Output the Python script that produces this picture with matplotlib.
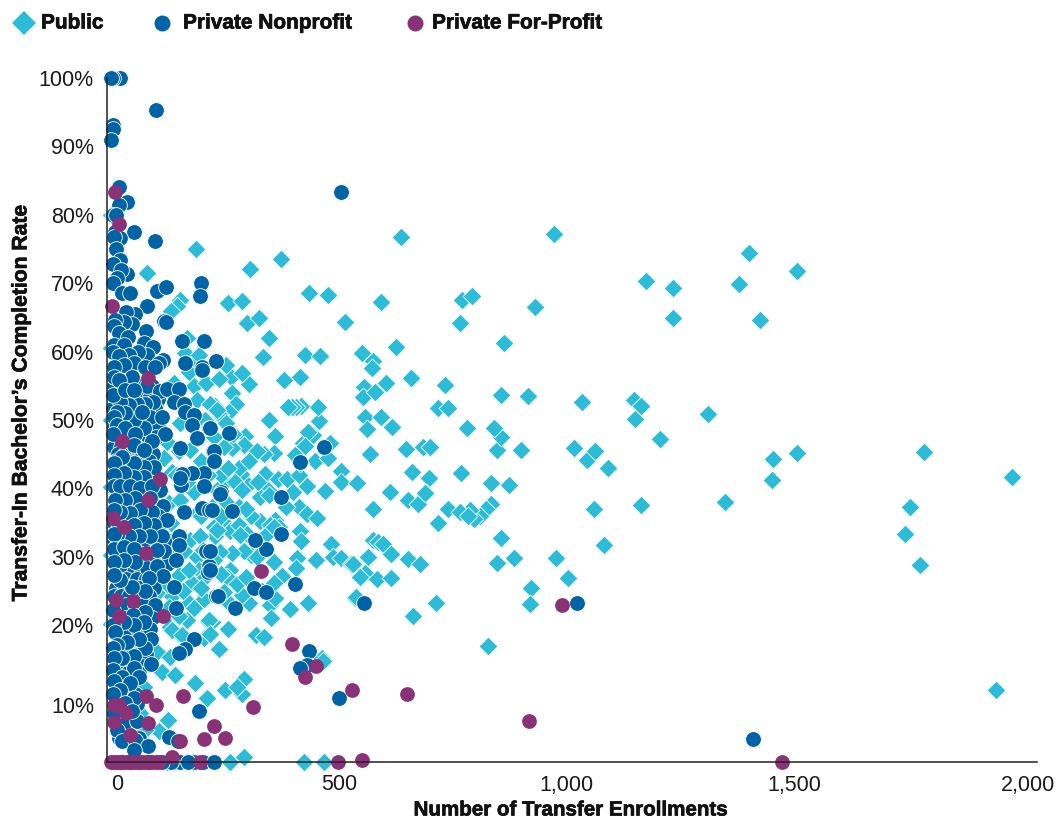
import matplotlib
matplotlib.use("Agg")
import matplotlib.pyplot as plt
from matplotlib.lines import Line2D
from matplotlib.transforms import ScaledTranslation
import matplotlib.patheffects as pe

plt.rcParams['font.family'] = ['Liberation Sans', 'DejaVu Sans']

categories = ["Public", "Private Nonprofit", "Private For-Profit"]
x_ticks = [0, 500, 1000, 1500, 2000]
x_tick_labels = ["0", "500", "1,000", "1,500", "2,000"]
y_ticks = [10, 20, 30, 40, 50, 60, 70, 80, 90, 100]
y_tick_labels = ["10%", "20%", "30%", "40%", "50%", "60%", "70%", "80%", "90%", "100%"]

# (transfer enrollments, completion rate %)
public = [
(1980,41.7),(1945,10.5),(1786,45.3),(1778,28.8),(1756,37.3),(1745,33.3),(1507,45.2),(1454,44.3),(1452,41.2),(1349,38),
(1311,50.9),(1507,71.8),(1401,74.4),(1379,69.9),(1426,64.6),(1234,69.3),(1175,70.3),(1234,64.9),(972,77.2),(636,76.8),
(185,75),(304,72.1),(372,73.5),(77,71.5),(931,66.5),(770,67.5),(792,68.1),(766,64.2),(862,61.3),(592,67.3),(513,64.3),
(475,68.3),(433,68.6),(255,67.1),(286,67.4),(150,67.5),(143,66.7),(297,64.2),(323,64.9),
(856,53.7),(915,53.5),(1034,52.6),(1148,52.9),(1164,52),(1150,50.1),(1205,47.2),(1016,45.9),(1045,44.2),(1062,45.5),
(1090,43),(1060,37),(1164,37.6),(1082,31.7),(1003,26.9),(976,29.8),(921,25.4),(919,23.1),(884,29.8),(847,29.1),(856,32.7),
(873,40.5),(834,40.8),(900,45.6),(847,45.6),(856,47.5),(840,48.8),(827,17),(834,37.7),(823,37),(810,36),(796,35.5),(788,36.8),
(346,62),(331,59.2),(425,59.5),(458,59.3),(549,59.8),(573,58.6),(571,57.6),(624,60.6),(659,56.1),(657,56.2),(732,55.1),(554,54.8),
(553,53.3),(579,54.1),(603,55.4),(718,51.7),(738,51.8),(556,50.5),(592,50.4),(561,48.7),(616,49),(780,48.8),(647,45.7),(685,46),
(699,46),(567,45),(660,42.4),(767,42.2),(697,41.5),(691,39.4),(611,39.5),(650,38.3),(503,42.5),(503,41),(539,40.8),(468,39.6),
(429,40.4),(397,39.5),(337,42.1),(298,40.5),(364,41.4),(384,41.4),(411,42),(447,44),(474,44.5),(414,43.7),(403,44.9),(419,46.6),
(480,46.6),(441,47.8),(430,48.3),(425,46.2),(358,47.7),(346,50),(454,49.9),(452,51.9),(416,52),(404,51.9),(395,51.9),(386,51.9),
(414,56.3),(377,55.9),(301,55.2),(261,56.3),(285,56.9),(263,54),(273,52.3),(258,51.2),(238,50.7),(219,52),(226,52),(293,47.7),
(289,46.4),(263,45.9),(245,46.1),(355,45.2),(333,45),(318,45.4),(284,42.1),(278,43),(249,41),(331,39.3),(342,39.8),
(672,37.7),(688,39.3),(575,37),(738,37),(765,36.5),(784,35.9),(718,35),(411,37.3),(428,36.3),(450,35.7),(383,37.3),(326,35.2),
(358,35.4),(347,34.6),(366,34.4),(414,33.7),(415,32.3),(481,31.8),(486,30),(504,29.8),(525,29),(531,29),(573,32.5),(586,32.1),
(597,31.8),(614,30.4),(562,29.9),(650,29.7),(678,29),(556,27.7),(545,27.1),(582,26.7),(614,26.9),(535,24),(661,21.4),(713,23.2),
(431,23.3),(392,22.3),(348,23),(358,24),(302,23.2),(285,24.4),(256,23.2),(219,20.5),(317,18.5),(333,18.3),(461,15.2),(406,29.8),
(405,28.4),(449,29.5),(373,27.2),(355,29.3),(355,26.1),(305,30.3),(318,30),(289,30.8),(263,30.6),(238,30.7),(260,28.1),(252,27.1),
(245,34.9),(260,33.7),(278,34.7),(296,33.4),(281,33.2),(227,33),(340,33.4),(355,34.4),(230,37.3),(252,37.8),(278,37.3),(326,38.8),(344,39),
(210,20.6),(164,20.8),(146,21.3),(127,19.8),(153,18.3),(138,12.8),(109,13.2),(182,11.5),(208,9.3),(248,10.5),(285,9.9),(291,12.1),
(274,11),(122,6.2),(102,4.5),(73,4.7),(463,14.7),(260,0),(290,0.7),(421,0),(465,0),(127,15.4),(98,16.1),(201,18.1),(536,24.1),
(179,55),(207,55.4),(135,55.4),(186,52.9),(215,52.4),(230,51.5),(150,49.5),(120,46.8),(146,45.4),(113,44.4),(171,45.6),(131,42.4),
(124,37.8),(150,38.3),(179,39.5),(186,36.4),(171,32.5),(193,33),(223,34.4),(186,30),(157,30.8),(109,29),(219,37.3),(230,33.9),(230,39.8),
(98,24.7),(131,24.2),(175,26.1),(146,27.3),(201,23.9),(168,23.2),(212,20.7),(124,22.7),(131,19.3),(153,18.6),(127,15.3),(139,12.7),
(183,11.5),(69,11),(62,7.1),(40,5.7),(180,58.6),(160,59.8),(190,59.5),(120,0),(135,0),(150,0),(165,0),(-3,50),(-3,80),(-3,60.5),(-3,40.2),(-3,30.3),(-3,20.2),
(240,42),(255,43),(270,41),(285,39.7),(300,44),(265,48),(250,49.5),(225,47.5),(205,50),(195,44),(210,42),(195,36),(240,36),(305,36),(320,41),(295,37),
(200,31),(225,29.5),(240,27.5),(275,26),(295,27),(330,25),(350,21),(245,24.8),(190,28),(205,27),(170,28),(155,25),(110,27),(120,31),(130,35),(140,42),
(165,41),(195,25.5),(215,18.7),(235,16.5),(255,19.5),(180,22.5),(120,26),(250,58),(235,56),(170,57),(165,62),(130,66),
]

# crowded band next to the axis: rates and the enrollments read along each of them
dense_rates = [55, 53, 51.8, 50, 49, 47.5, 46, 45, 44, 42.8, 41, 39.5, 37.5, 36, 35, 34, 32.5, 32, 30.5, 29, 27.8, 26.7, 25.5, 24.3, 23, 21, 19, 17, 15.8, 14, 13, 10, 8.5, 6, 3.5, 0]
dense_enrollments = [
[5,22,38,58,88],[8,25,43,62,80,100],[2,20,38,57,75,95],[15,33,57,76,95],[5,20,40,60,78,100],[12,30,42,62,75,97],[5,20,35,55,80],
[12,28,42,58,75,90],[8,32,55,80],[14,35,58,78,88],[8,14,32,55,78,95],[10,30,48,70,95],[14,35,55,75,98,112],[8,28,50,72,100],[3,20,38,58,80],
[12,30,52,72,100],[3,20,42,65,90,120],[14,33,55,75],[8,36,60,85,105],[14,38,62,88,120],[8,28,48,66,92],[30,55,75,95],[8,28,58,92],[3,20,38,58,80],
[12,30,50,68,95],[8,28,58,88],[20,38,60,78],[20,42,65],[32,60,75],[12,30,65],[35,58],[8,32,50],[12,20,55],[10,20,30,55],[15,35,60],[20,40,60,80,140,180,200],
]

nonprofit = [
(18,100),(2,100),(-2,100),(97,95.3),(2,93.2),(2,92.6),(-2,91),(14,84),(504,83.3),(32,81.8),(14,81.4),(1,80),(9,80),(47,77.5),
(95,76.2),(7,77.5),(18,76.6),(3,76.8),(8,75),(18,73.4),(1,72.8),(32,71.3),(19,72),(10,70.7),(2,70),(21,68.5),(40,68.6),(98,68.8),
(118,69.5),(196,70.1),(193,68.1),(76,66.7),(113,64.5),(119,64.3),(51,65.5),(31,65.8),(43,64),(25,64.4),(74,63),(7,64.6),(3,63.7),
(14,62.7),(34,62.2),(153,61.5),(201,61.5),(3,61),(25,61),(69,61.2),(89,60.6),(76,59.5),(57,60),(1,60),(36,59.5),(14,59.3),(111,58.7),
(104,58.3),(160,58.3),(197,57.8),(229,58.6),(47,58.3),(25,58),(3,57.8),(72,57.8),(94,57.8),
(197,57.3),(43,56.3),(3,56.3),(14,55.8),(76,54.9),(106,54.3),(120,54.5),(147,54.5),(135,52.7),(159,52.4),(160,51.2),(181,50.8),
(175,49.3),(212,48.8),(186,47.4),(89,52.6),(72,52.4),(54,52.4),(36,52.2),(18,52.7),(2,53.6),(29,54.4),(47,54.4),(84,50.5),(109,50.4),
(69,48.8),(116,47.9),(87,46.9),(47,50),(65,51.2),(29,51),(10,51.2),(3,50.5),(10,49.3),(29,48.8),(51,48),(2,48),(47,46.3),(69,45.6),
(150,45.9),(221,45.4),(223,43.9),(202,42.3),(175,42.2),(91,43.1),(153,42.1),(152,40.5),(150,41.5),(203,40.3),(106,39.8),(69,43.2),
(47,43.7),(21,44.6),(3,43.7),(69,41.7),(47,41.7),(25,42.2),(3,42),(3,40.3),(18,40.3),(40,40.3),(62,40),(87,40.3),(84,38.6),(51,38.6),
(29,38.3),(7,38.3),(87,36.6),(62,36.8),(40,36.4),(18,36.6),(3,36.8),(159,36.5),(197,37.2),(213,36.8),(120,35.4),(91,34.7),(69,34.9),
(47,34.7),(109,33),(148,33.1),(148,31.7),(113,30.9),(84,33),(58,33),(36,33),(10,33.2),(3,33.4),(3,31.2),(25,31.5),(47,31.2),(98,31),
(141,29.5),(206,30.8),(212,28.6),(76,28.3),(51,29.3),(25,29.5),(3,29.3),(98,28.6),
(210,27.8),(111,27.2),(81,26.9),(135,25.6),(72,25),(43,25.6),(18,26.6),(3,27.3),(229,24.2),(141,22.5),(72,22),(45,21.5),(2,22.2),
(84,19.5),(71,20.4),(47,20),(25,20.5),(2,20),(7,19),(85,18),(181,18),(73,16.6),(160,16.5),(146,15.9),(58,18),(32,17.6),(10,17.1),
(2,16.6),(47,15.5),(21,15.2),(86,14.4),(3,15.2),(47,13.7),(2,13.5),(21,12.5),(60,12.4),(40,11.5),(3,11.8),(18,10.5),(47,9.3),(2,10),
(192,7.5),(29,8.6),(43,7.4),(3,7.2),(10,4.7),(21,3),(51,3.2),(78,2.3),(126,3.7),(144,3),(47,1.8),(150,0),(166,0),(223,0),(130,0),(110,0),
(432,16.3),(428,14.2),(413,13.8),(498,9.4),(555,23.2),(270,22.5),(232,24.3),(312,25.5),(338,24.9),(402,26),(339,31.1),(315,32.5),
(1023,23.3),(1410,3.3),(465,46.1),(414,43.8),(371,38.8),(256,48.1),(240,39.5),(216,48.8),(224,45.4),(223,44),(371,33.3),(263,36.7),
(238,39.2),(233,24.2),(219,36.8),(216,28.1),(216,30.8),
]

forprofit = [
(7,83.3),(15,78.6),(0,66.7),(79,56.1),(22,47),(79,38.3),(106,41.4),(2,35.7),(26,34.4),(75,30.6),(328,27.9),(9,23.7),(45,23.6),(16,21.4),
(111,21.3),(395,17.3),(449,14),(424,12.4),(528,10.5),(649,10),(917,6),(990,23),(1474,0),(309,8),(155,9.7),(74,9.6),(96,8.4),(4,8.4),
(16,8.4),(31,7.1),(5,5.8),(78,5.7),(40,3.9),(224,5.2),(201,3.4),(248,3.5),(150,3.1),(131,0.7),(193,0),(496,0),(549,0.3),
(-2,0),(3,0),(8,0),(16,0),(24,0),(32,0),(40,0),(48,0),(56,0),(64,0),(72,0),(80,0),(88,0),(96,0),(104,0),
]

C_PUB, C_NON, C_FOR = "#2CBCD8", "#0063A6", "#8A3278"

fig = plt.figure(figsize=(10.59, 8.18), dpi=100)
ax = fig.add_axes([106.5/1059, 1-762/818, (1037-106.5)/1059, (762-78)/818])

dense = [(x, r) for r, row in zip(dense_rates, dense_enrollments) for x in row]
for data, marker, size, color, edge in [(public, "D", 92, C_PUB, 0.6),
                                        (dense + nonprofit, "o", 128, C_NON, 0.6),
                                        (forprofit, "o", 113, C_FOR, 0.0)]:
    xs = [p[0] for p in data]
    ys = [p[1] for p in data]
    ax.scatter(xs, ys, marker=marker, s=size, c=color, edgecolors="white", linewidths=edge, clip_on=False, zorder=3)

ax.set_xlim(-12.5, 2035)
ax.set_ylim(0, 100)
for s in ("top", "right"):
    ax.spines[s].set_visible(False)
for s in ("left", "bottom"):
    ax.spines[s].set_color("#222222")
    ax.spines[s].set_linewidth(1.1)
    ax.spines[s].set_zorder(4)

ax.set_xticks(x_ticks, x_tick_labels)
ax.set_yticks(y_ticks, y_tick_labels)
ax.tick_params(axis="both", length=0, labelsize=15.5, colors="#1a1a1a")
ax.tick_params(axis="x", pad=9)
ax.tick_params(axis="y", pad=9)

# Source chart nudges the 10% label downward and the end x labels to the right
for lab, dx, dy in [(ax.get_yticklabels()[0], 0, -0.115),
                    (ax.get_xticklabels()[0], 0.05, 0),
                    (ax.get_xticklabels()[-1], 0.065, 0)]:
    lab.set_transform(lab.get_transform() + ScaledTranslation(dx, dy, fig.dpi_scale_trans))

stroke = [pe.withStroke(linewidth=0.5, foreground="#111111")]
ax.set_xlabel("Number of Transfer Enrollments", fontsize=14.8, fontweight="bold", color="#111111", path_effects=stroke)
ax.xaxis.set_label_coords(570/1059, 1-810/818, transform=fig.transFigure)
ax.xaxis.label.set_va("center")
ax.set_ylabel("Transfer-In Bachelor\u2019s Completion Rate", fontsize=15.2, fontweight="bold", color="#111111", path_effects=stroke)
ax.yaxis.set_label_coords(21/1059, 1-403/818, transform=fig.transFigure)
ax.yaxis.label.set_va("center")

# legend, placed by hand because its gaps are uneven
legend_style = [("D", 12.0, C_PUB, 24, 41), ("o", 11.5, C_NON, 162, 183), ("o", 11.5, C_FOR, 415, 432)]
for name, (mk, ms, col, mx, tx) in zip(categories, legend_style):
    fig.add_artist(Line2D([mx/1059], [1-23/818], marker=mk, ms=ms, color=col, mew=0, ls="", transform=fig.transFigure))
    fig.text(tx/1059, 1-23/818, name, va="center", ha="left", fontsize=15, fontweight="bold", color="#111111", path_effects=stroke)

fig.savefig("out.png", dpi=100, facecolor="white")
